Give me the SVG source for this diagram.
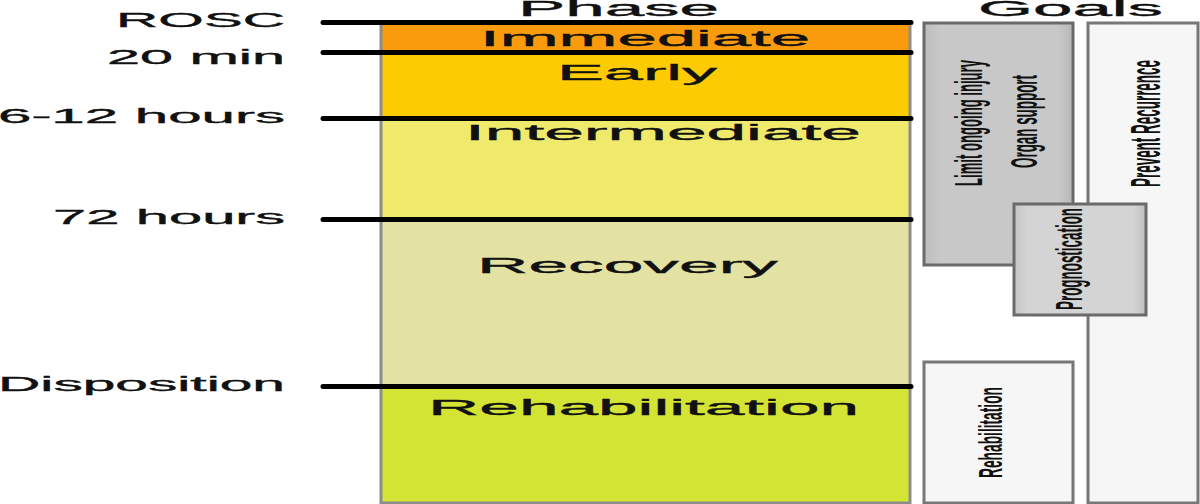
<svg xmlns="http://www.w3.org/2000/svg" width="1200" height="504" viewBox="0 0 1200 504">
<style>
  text { font-family: "Liberation Sans", Arial, sans-serif; fill: #111; }
  .lbl { font-size: 19.5px; stroke: #111; stroke-width: 0.35; }
  .hdr { font-size: 22px; stroke: #111; stroke-width: 0.35; }
  .ph { font-size: 22px; stroke: #111; stroke-width: 0.35; }
  .vt { font-size: 14.6px; font-weight: bold; text-anchor: middle; }
  .tick { stroke: #000; stroke-width: 5; stroke-linecap: round; }
  .boxd { stroke: #6a6a6a; stroke-width: 3; }
  .boxl { fill: #f6f6f6; stroke: #777777; stroke-width: 3; }
</style>
<defs>
  <linearGradient id="gD" x1="0" y1="0" x2="1" y2="0">
    <stop offset="0" stop-color="#bcbcbc"/>
    <stop offset="0.1" stop-color="#c8c8c8"/>
    <stop offset="0.9" stop-color="#c8c8c8"/>
    <stop offset="1" stop-color="#b8b8b8"/>
  </linearGradient>
  <linearGradient id="gP" x1="0" y1="0" x2="1" y2="0">
    <stop offset="0" stop-color="#c4c4c4"/>
    <stop offset="0.1" stop-color="#d4d4d4"/>
    <stop offset="0.9" stop-color="#d4d4d4"/>
    <stop offset="1" stop-color="#c0c0c0"/>
  </linearGradient>
</defs>
<rect width="1200" height="504" fill="#ffffff"/>

<g id="headers">
  <text class="hdr" x="518" y="15.5" textLength="201" lengthAdjust="spacingAndGlyphs">Phase</text>
  <text class="hdr" x="978" y="15.5" textLength="185" lengthAdjust="spacingAndGlyphs">Goals</text>
</g>

<g id="phase-column">
  <g id="phase-immediate">
    <rect x="381" y="22" width="529" height="30" fill="#f99b0c"/>
    <text class="ph" x="480" y="46" textLength="330" lengthAdjust="spacingAndGlyphs">Immediate</text>
  </g>
  <g id="phase-early">
    <rect x="381" y="52" width="529" height="66" fill="#fdcb02"/>
    <text class="ph" x="557" y="80" textLength="160" lengthAdjust="spacingAndGlyphs">Early</text>
  </g>
  <g id="phase-intermediate">
    <rect x="381" y="118" width="529" height="101" fill="#efea6c"/>
    <text class="ph" x="465" y="140" textLength="396" lengthAdjust="spacingAndGlyphs">Intermediate</text>
  </g>
  <g id="phase-recovery">
    <rect x="381" y="219" width="529" height="167" fill="#e4e2a2"/>
    <text class="ph" x="477" y="273" textLength="301" lengthAdjust="spacingAndGlyphs">Recovery</text>
  </g>
  <g id="phase-rehabilitation">
    <rect x="381" y="386" width="529" height="117" fill="#d4e434"/>
    <text class="ph" x="428" y="415" textLength="431" lengthAdjust="spacingAndGlyphs">Rehabilitation</text>
  </g>
  <rect x="381" y="22" width="529" height="481" fill="none" stroke="#8c8c8c" stroke-width="3"/>
</g>

<g id="connectors">
  <line class="tick" x1="323" y1="22.5" x2="911" y2="22.5"/>
  <line class="tick" x1="323" y1="52.5" x2="911" y2="52.5"/>
  <line class="tick" x1="323" y1="118.5" x2="911" y2="118.5"/>
  <line class="tick" x1="323" y1="219.5" x2="911" y2="219.5"/>
  <line class="tick" x1="323" y1="386.5" x2="911" y2="386.5"/>
</g>

<g id="time-labels">
  <text class="lbl" x="116" y="27" textLength="169" lengthAdjust="spacingAndGlyphs">ROSC</text>
  <text class="lbl" x="107" y="64" textLength="178" lengthAdjust="spacingAndGlyphs">20 min</text>
  <text class="lbl" x="-2" y="123" textLength="287" lengthAdjust="spacingAndGlyphs">6-12 hours</text>
  <text class="lbl" x="53" y="224" textLength="232" lengthAdjust="spacingAndGlyphs">72 hours</text>
  <text class="lbl" x="-2" y="391" textLength="287" lengthAdjust="spacingAndGlyphs">Disposition</text>
</g>

<g id="goal-limit">
  <rect x="924" y="23" width="149" height="242" fill="url(#gD)" class="boxd"/>
  <text class="vt" transform="translate(982,123) rotate(-90) scale(1,2.6)" textLength="126" lengthAdjust="spacingAndGlyphs">Limit ongoing injury</text>
  <text class="vt" transform="translate(1037,121.5) rotate(-90) scale(1,2.5)" textLength="93" lengthAdjust="spacingAndGlyphs">Organ support</text>
</g>

<g id="goal-prevent">
  <rect x="1088" y="23" width="110" height="480" class="boxl"/>
  <text class="vt" transform="translate(1160,123.5) rotate(-90) scale(1,2.9)" textLength="127" lengthAdjust="spacingAndGlyphs">Prevent Recurrence</text>
</g>

<g id="goal-prognostication">
  <rect x="1014" y="204" width="132" height="111" fill="url(#gP)" class="boxd"/>
  <text class="vt" transform="translate(1082,259) rotate(-90) scale(1,2.5)" textLength="102" lengthAdjust="spacingAndGlyphs">Prognostication</text>
</g>

<g id="goal-rehabilitation">
  <rect x="924" y="362" width="149" height="141" class="boxl"/>
  <text class="vt" transform="translate(1002,432.5) rotate(-90) scale(1,2.3)" textLength="91" lengthAdjust="spacingAndGlyphs">Rehabilitation</text>
</g>
</svg>
